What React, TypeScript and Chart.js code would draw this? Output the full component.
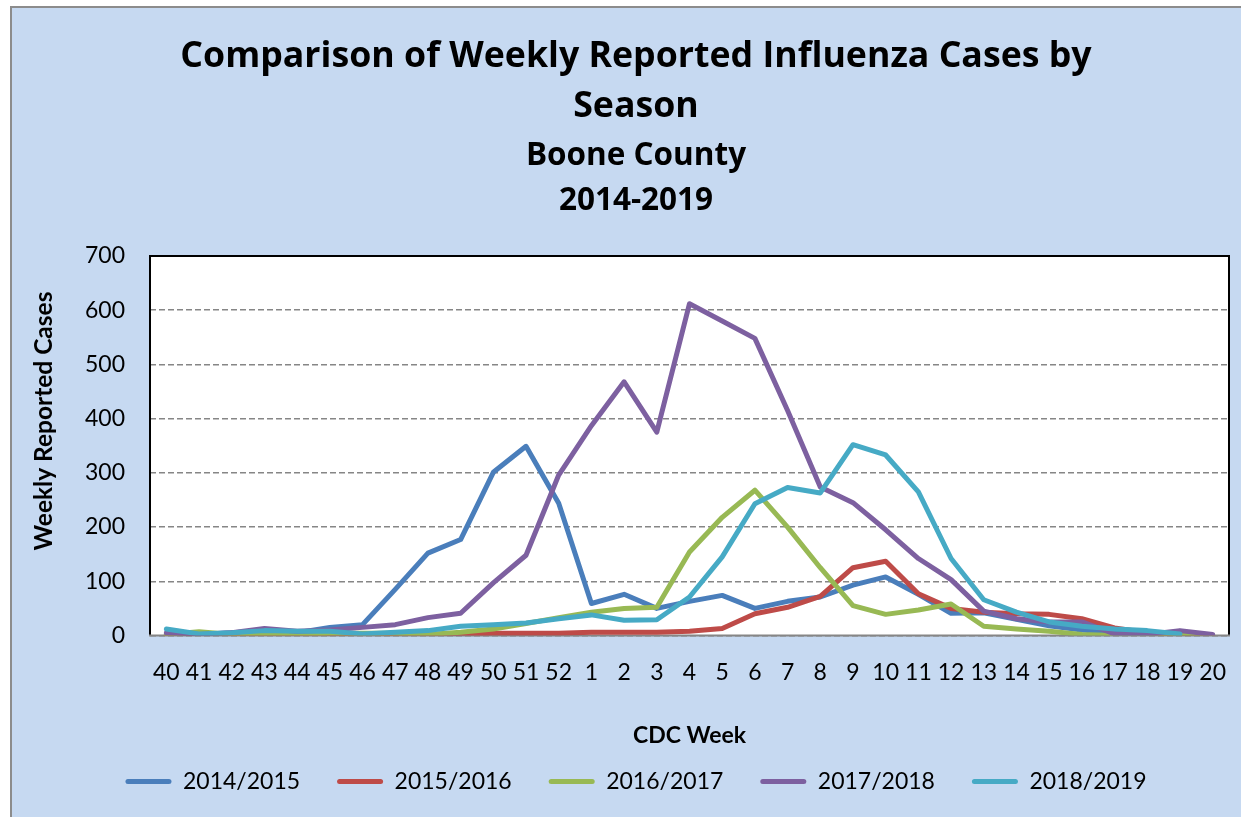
import { useEffect, useRef } from 'react';
import { Chart, registerables } from 'chart.js';
Chart.register(...registerables);

const weeks = ['40','41','42','43','44','45','46','47','48','49','50','51','52','1','2','3','4','5','6','7','8','9','10','11','12','13','14','15','16','17','18','19','20'];
const season1415 = [3,2,5,8,5,15,20,85,152,177,301,349,244,59,76,50,63,74,50,63,71,93,108,76,41,42,30,18,10,5,2,2,0];
const season1516 = [0,0,0,1,1,2,2,2,2,3,4,4,4,6,6,6,8,13,40,52,72,125,137,77,50,43,40,39,31,14,5,2,0];
const season1617 = [2,7,2,3,2,4,4,4,2,6,12,22,33,43,50,52,154,218,268,200,125,55,39,47,58,17,12,8,2,0,0,0,0];
const season1718 = [5,2,5,13,8,10,15,20,33,41,97,148,296,387,468,375,612,580,548,415,274,245,195,142,103,45,31,25,25,3,2,9,2];
const season1819 = [12,3,5,9,8,8,3,6,9,17,20,23,31,38,28,29,71,145,243,273,263,352,333,265,142,66,43,25,17,12,9,3,null];
const seasonNames = ['2014/2015','2015/2016','2016/2017','2017/2018','2018/2019'];
const seasonColors = ['#4A7EBB','#BE4B48','#98B954','#7D60A0','#46AAC5'];
const yTicks = [0,100,200,300,400,500,600,700];
const yAxisTitle = 'Weekly Reported Cases';

const FONT = 'Lato, "Open Sans", sans-serif';
const TITLE_FONT = '"Open Sans", Lato, sans-serif';

const plotFrame = {
  id: 'plotFrame',
  beforeDraw(chart: any) {
    const { ctx, chartArea: a } = chart;
    ctx.save();
    ctx.fillStyle = '#FFFFFF';
    ctx.fillRect(a.left, a.top, a.right - a.left, a.bottom - a.top);
    ctx.restore();
  },
  beforeDatasetsDraw(chart: any) {
    const { ctx, chartArea: a } = chart;
    ctx.save();
    ctx.strokeStyle = '#000000';
    ctx.lineWidth = 2;
    ctx.beginPath();
    ctx.moveTo(a.left, a.bottom);
    ctx.lineTo(a.left, a.top);
    ctx.lineTo(a.right, a.top);
    ctx.lineTo(a.right, a.bottom);
    ctx.stroke();
    ctx.strokeStyle = '#868686';
    ctx.beginPath();
    ctx.moveTo(a.left - 1, a.bottom);
    ctx.lineTo(a.right + 1, a.bottom);
    ctx.stroke();
    ctx.restore();
  },
  afterDraw(chart: any) {
    const { ctx } = chart;
    ctx.save();
    ctx.translate(32, 413);
    ctx.rotate(-Math.PI / 2);
    ctx.font = `bold 24.5px ${FONT}`;
    ctx.fillStyle = '#000';
    ctx.textAlign = 'center';
    ctx.textBaseline = 'middle';
    ctx.fillText(yAxisTitle, 0, 0);
    ctx.restore();
  },
};

export default function App() {
  const ref = useRef<HTMLCanvasElement | null>(null);
  useEffect(() => {
    document.body.style.margin = '0';
    const series = [season1415, season1516, season1617, season1718, season1819];
    const chart = new Chart(ref.current as HTMLCanvasElement, {
      type: 'line',
      data: {
        labels: weeks,
        datasets: series.map((d, i) => ({
          label: seasonNames[i],
          data: d,
          borderColor: seasonColors[i],
          backgroundColor: seasonColors[i],
          borderWidth: 5,
          pointRadius: 0,
          tension: 0,
          fill: false,
          borderJoinStyle: 'round' as const,
          borderCapStyle: 'round' as const,
          order: 5 - i,
        })),
      },
      options: {
        responsive: false,
        animation: false,
        layout: { padding: { left: 0, right: 0, top: 0, bottom: 10 } },
        plugins: {
          tooltip: { enabled: false },
          title: {
            display: true,
            text: ['Comparison of Weekly Reported Influenza Cases by', 'Season'],
            color: '#000',
            font: { family: TITLE_FONT, size: 35.7, weight: 'bold', lineHeight: '50px' },
            padding: { top: 24, bottom: 0 },
          },
          subtitle: {
            display: true,
            text: ['Boone County', '2014-2019'],
            color: '#000',
            font: { family: TITLE_FONT, size: 31.5, weight: 'bold', lineHeight: '45px' },
            padding: { top: 2, bottom: 32 },
          },
          legend: {
            position: 'bottom',
            labels: {
              color: '#000',
              font: { family: FONT, size: 23 },
              boxWidth: 46,
              boxHeight: 5,
              padding: 37,
              useBorderRadius: true,
              borderRadius: 2.5,
              sort: (a: any, b: any) => a.datasetIndex - b.datasetIndex,
              generateLabels: (c: any) =>
                Chart.defaults.plugins.legend.labels.generateLabels(c).map((l: any) => ({
                  ...l,
                  lineWidth: 0,
                  fillStyle: seasonColors[l.datasetIndex],
                })),
            },
          },
        },
        scales: {
          x: {
            offset: true,
            afterFit: (s: any) => { s.height = 97.5; },
            grid: { display: false, drawTicks: false },
            border: { display: false },
            ticks: { color: '#000', font: { family: FONT, size: 23 }, padding: 23, maxRotation: 0, autoSkip: false },
            title: {
              display: true,
              text: 'CDC Week',
              color: '#000',
              font: { family: FONT, size: 23, weight: 'bold' },
              padding: { top: 0, bottom: -16 },
            },
          },
          y: {
            min: yTicks[0],
            max: yTicks[yTicks.length - 1],
            afterBuildTicks: (s: any) => { s.ticks = yTicks.map((v) => ({ value: v })); },
            afterFit: (s: any) => { s.width = 138; },
            grid: { color: '#868686', lineWidth: 1.5, drawTicks: false, tickLength: 0 },
            border: { display: false, dash: [6, 3] },
            ticks: { color: '#000', font: { family: FONT, size: 23 }, padding: 25 },
            title: { display: false, text: yAxisTitle },
          },
          yRight: {
            position: 'right',
            display: true,
            min: 0,
            max: 700,
            afterFit: (s: any) => { s.width = 31; },
            grid: { display: false, drawTicks: false },
            border: { display: false },
            ticks: { display: false },
          },
        },
      },
      plugins: [plotFrame],
    });
    return () => chart.destroy();
  }, []);

  return (
    <div style={{ position: 'fixed', left: 0, top: 0, width: 1241, height: 817, background: '#FFFFFF', overflow: 'hidden' }}>
      <div style={{ position: 'absolute', left: 10, top: 6, width: 1300, height: 860, background: '#C6D9F1', border: '2px solid #8C8C8C' }}>
        <canvas ref={ref} width={1248} height={805} style={{ position: 'absolute', left: 0, top: 0, width: 1248, height: 805 }} />
      </div>
    </div>
  );
}
